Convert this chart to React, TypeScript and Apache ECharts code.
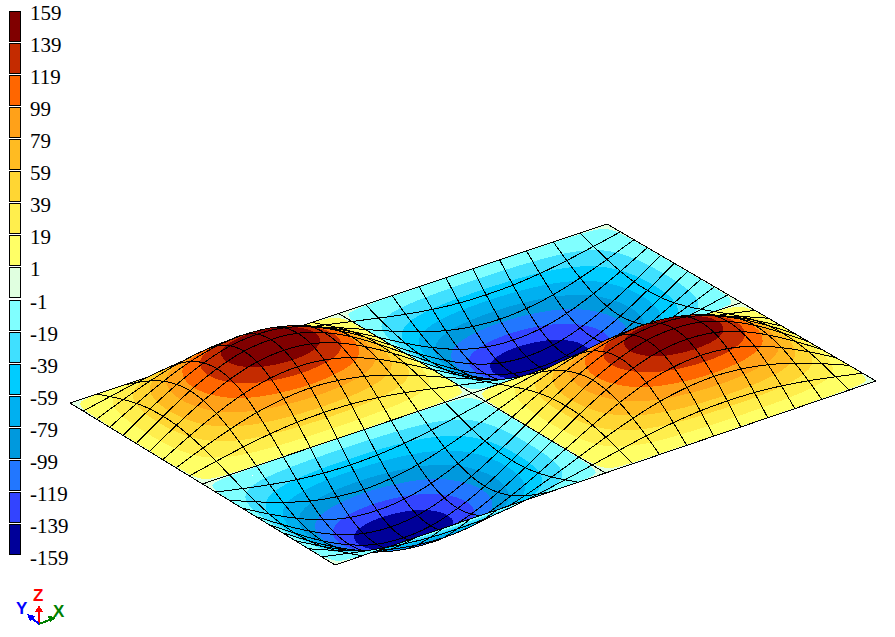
import React, { useEffect, useRef } from "react";
import * as echarts from "echarts";

// Node heights of the plate, rows = steps along the bottom→right edge, columns = steps along the bottom→left edge
const surfaceZ: number[][] = [
  [0,0,0,0,0,0,0,0,0,0,0,0,0,0,0,0,0,0,0,0,0],
  [0,-15,-29,-40,-47,-49,-47,-40,-29,-15,0,15,29,40,47,49,47,40,29,15,0],
  [0,-29,-55,-76,-89,-94,-89,-76,-55,-29,0,29,55,76,89,94,89,76,55,29,0],
  [0,-40,-76,-105,-123,-129,-123,-105,-76,-40,0,40,76,105,123,129,123,105,76,40,0],
  [0,-47,-89,-123,-145,-152,-145,-123,-89,-47,0,47,89,123,145,152,145,123,89,47,0],
  [0,-49,-94,-129,-152,-159,-152,-129,-94,-49,0,49,94,129,152,159,152,129,94,49,0],
  [0,-47,-89,-123,-145,-152,-145,-123,-89,-47,0,47,89,123,145,152,145,123,89,47,0],
  [0,-40,-76,-105,-123,-129,-123,-105,-76,-40,0,40,76,105,123,129,123,105,76,40,0],
  [0,-29,-55,-76,-89,-94,-89,-76,-55,-29,0,29,55,76,89,94,89,76,55,29,0],
  [0,-15,-29,-40,-47,-49,-47,-40,-29,-15,0,15,29,40,47,49,47,40,29,15,0],
  [0,0,0,0,0,0,0,0,0,0,0,0,0,0,0,0,0,0,0,0,0],
  [0,15,29,40,47,49,47,40,29,15,0,-15,-29,-40,-47,-49,-47,-40,-29,-15,0],
  [0,29,55,76,89,94,89,76,55,29,0,-29,-55,-76,-89,-94,-89,-76,-55,-29,0],
  [0,40,76,105,123,129,123,105,76,40,0,-40,-76,-105,-123,-129,-123,-105,-76,-40,0],
  [0,47,89,123,145,152,145,123,89,47,0,-47,-89,-123,-145,-152,-145,-123,-89,-47,0],
  [0,49,94,129,152,159,152,129,94,49,0,-49,-94,-129,-152,-159,-152,-129,-94,-49,0],
  [0,47,89,123,145,152,145,123,89,47,0,-47,-89,-123,-145,-152,-145,-123,-89,-47,0],
  [0,40,76,105,123,129,123,105,76,40,0,-40,-76,-105,-123,-129,-123,-105,-76,-40,0],
  [0,29,55,76,89,94,89,76,55,29,0,-29,-55,-76,-89,-94,-89,-76,-55,-29,0],
  [0,15,29,40,47,49,47,40,29,15,0,-15,-29,-40,-47,-49,-47,-40,-29,-15,0],
  [0,0,0,0,0,0,0,0,0,0,0,0,0,0,0,0,0,0,0,0,0],
];

const levels = [159,139,119,99,79,59,39,19,1,-1,-19,-39,-59,-79,-99,-119,-139,-159];
const bandColors = [
  "#800000","#C42B00","#FF6600","#FFA119","#FFBB22","#FFD633","#FFEE4D","#FFFF66","#E0FFE0",
  "#80FFFF","#40E0FF","#00CCFF","#00B0F0","#0099DD","#2277FF","#3344FF","#000099",
];

const CELLS = 20;
const SUB = 3;
const cornerBottom = [335, 565];
const cornerRight = [876, 381];
const cornerLeft = [70, 403];
const cornerBack = [607, 224];
const zScale = 0.37;

type V = { x: number; y: number; z: number };

// Smooth shading between the table's nodes (cubic through the neighbouring nodes; the plate continues antisymmetrically past its edges)
function node(i: number, j: number) {
  let sign = 1;
  if (i < 0) { i = -i; sign = -sign; }
  if (i > CELLS) { i = 2 * CELLS - i; sign = -sign; }
  if (j < 0) { j = -j; sign = -sign; }
  if (j > CELLS) { j = 2 * CELLS - j; sign = -sign; }
  return sign * surfaceZ[i][j];
}
function cubic(a: number, b: number, c: number, d: number, t: number) {
  return b + 0.5 * t * (c - a + t * (2 * a - 5 * b + 4 * c - d + t * (3 * (b - c) + d - a)));
}
function heightAt(u: number, v: number) {
  const i = Math.min(Math.floor(u), CELLS - 1);
  const j = Math.min(Math.floor(v), CELLS - 1);
  const a = u - i, b = v - j;
  const rows = [-1, 0, 1, 2].map((di) =>
    cubic(node(i + di, j - 1), node(i + di, j), node(i + di, j + 1), node(i + di, j + 2), b),
  );
  return cubic(rows[0], rows[1], rows[2], rows[3], a);
}

function project(u: number, v: number): V {
  const a = u / CELLS, b = v / CELLS;
  const z = heightAt(u, v);
  const w = [(1 - a) * (1 - b), a * (1 - b), (1 - a) * b, a * b];
  const x = w[0] * cornerBottom[0] + w[1] * cornerRight[0] + w[2] * cornerLeft[0] + w[3] * cornerBack[0];
  const y = w[0] * cornerBottom[1] + w[1] * cornerRight[1] + w[2] * cornerLeft[1] + w[3] * cornerBack[1];
  return { x, y: y - z * zScale, z };
}

function clip(poly: V[], limit: number, keepAbove: boolean): V[] {
  const out: V[] = [];
  const inside = (p: V) => (keepAbove ? p.z >= limit : p.z <= limit);
  for (let k = 0; k < poly.length; k++) {
    const p = poly[k], q = poly[(k + 1) % poly.length];
    const pi = inside(p), qi = inside(q);
    if (pi) out.push(p);
    if (pi !== qi) {
      const t = (limit - p.z) / (q.z - p.z);
      out.push({ x: p.x + (q.x - p.x) * t, y: p.y + (q.y - p.y) * t, z: limit });
    }
  }
  return out;
}

// Far cells first so that near ones paint over them
const cellData: number[][] = [];
for (let u = CELLS - 1; u >= 0; u--) for (let v = CELLS - 1; v >= 0; v--) cellData.push([u, v]);

function renderCell(_params: any, api: any) {
  const u = api.value(0), v = api.value(1);
  const toPx = (p: V) => api.coord([p.x, p.y]);
  const children: any[] = [];
  for (let a = SUB - 1; a >= 0; a--) {
    for (let b = SUB - 1; b >= 0; b--) {
      const u0 = u + a / SUB, u1 = u + (a + 1) / SUB;
      const v0 = v + b / SUB, v1 = v + (b + 1) / SUB;
      const quad = [project(u0, v0), project(u1, v0), project(u1, v1), project(u0, v1)];
      const zs = quad.map((p) => p.z);
      const lo = Math.min(...zs), hi = Math.max(...zs);
      bandColors.forEach((fill, n) => {
        const top = n === 0 ? Infinity : levels[n];
        const bottom = n === bandColors.length - 1 ? -Infinity : levels[n + 1];
        if (hi < bottom || lo > top) return;
        let poly = quad;
        if (bottom !== -Infinity) poly = clip(poly, bottom, true);
        if (poly.length && top !== Infinity) poly = clip(poly, top, false);
        if (poly.length < 3) return;
        children.push({
          type: "polygon",
          shape: { points: poly.map(toPx) },
          style: { fill, stroke: null },
        });
      });
    }
  }
  const outline: V[] = [];
  for (let k = 0; k < SUB; k++) outline.push(project(u + k / SUB, v));
  for (let k = 0; k < SUB; k++) outline.push(project(u + 1, v + k / SUB));
  for (let k = SUB; k > 0; k--) outline.push(project(u + k / SUB, v + 1));
  for (let k = SUB; k >= 0; k--) outline.push(project(u, v + k / SUB));
  children.push({
    type: "polyline",
    shape: { points: outline.map(toPx) },
    style: { fill: null, stroke: "#000", lineWidth: 1 },
  });
  return { type: "group", children };
}

const legendX = 9;
const legendTop = 11;
const legendPitch = 32.06;
const legendW = 11;
const labelX = 30;

function legendGraphics() {
  const els: any[] = [];
  bandColors.forEach((fill, n) => {
    els.push({
      type: "rect",
      shape: { x: legendX + 0.5, y: Math.round(legendTop + n * legendPitch) + 0.5, width: legendW, height: 30 },
      style: { fill, stroke: "#000", lineWidth: 1 },
    });
  });
  levels.forEach((t, n) => {
    els.push({
      type: "text",
      x: labelX,
      y: legendTop + 2 + n * legendPitch,
      style: {
        text: String(t),
        fill: "#000",
        font: '21px "Liberation Serif"',
        verticalAlign: "middle",
        align: "left",
      },
    });
  });
  return els;
}

const triadOrigin = [39, 624];
const triad = [
  { name: "Z", color: "#FF0000", tip: [39, 606], head: [[39, 605], [35, 612], [43, 612]], label: [33, 595] },
  { name: "Y", color: "#0000FF", tip: [28, 615], head: [[27, 614], [35, 616], [30, 621]], label: [16, 608] },
  { name: "X", color: "#008000", tip: [55, 618], head: [[56, 617], [48, 616], [50, 622]], label: [53, 611] },
];

function triadGraphics() {
  const els: any[] = [];
  triad.forEach((a) => {
    els.push({
      type: "line",
      shape: { x1: triadOrigin[0], y1: triadOrigin[1], x2: a.tip[0], y2: a.tip[1] },
      style: { stroke: a.color, lineWidth: 2 },
    });
    els.push({ type: "polygon", shape: { points: a.head }, style: { fill: a.color } });
    els.push({
      type: "text",
      x: a.label[0],
      y: a.label[1],
      style: {
        text: a.name,
        fill: a.color,
        font: 'bold 17px "Liberation Sans"',
        verticalAlign: "middle",
        align: "left",
      },
    });
  });
  return els;
}

export default function App() {
  const ref = useRef<HTMLDivElement>(null);
  useEffect(() => {
    document.body.style.margin = "0";
    const chart = echarts.init(ref.current!, undefined, { renderer: "svg" });
    chart.setOption({
      animation: false,
      backgroundColor: "#fff",
      grid: { left: 0, right: 0, top: 0, bottom: 0 },
      xAxis: { type: "value", min: 0, max: 895, show: false },
      yAxis: { type: "value", min: 0, max: 637, inverse: true, show: false },
      series: [
        {
          type: "custom",
          silent: true,
          clip: false,
          progressive: 0,
          data: cellData,
          encode: { x: 0, y: 1 },
          renderItem: renderCell,
        },
      ],
      graphic: { elements: [...legendGraphics(), ...triadGraphics()] },
    });
    return () => chart.dispose();
  }, []);
  return (
    <>
      <style>{`path,line,polyline,polygon,rect{shape-rendering:crispEdges}`}</style>
      <div ref={ref} style={{ width: 895, height: 637 }} />
    </>
  );
}
